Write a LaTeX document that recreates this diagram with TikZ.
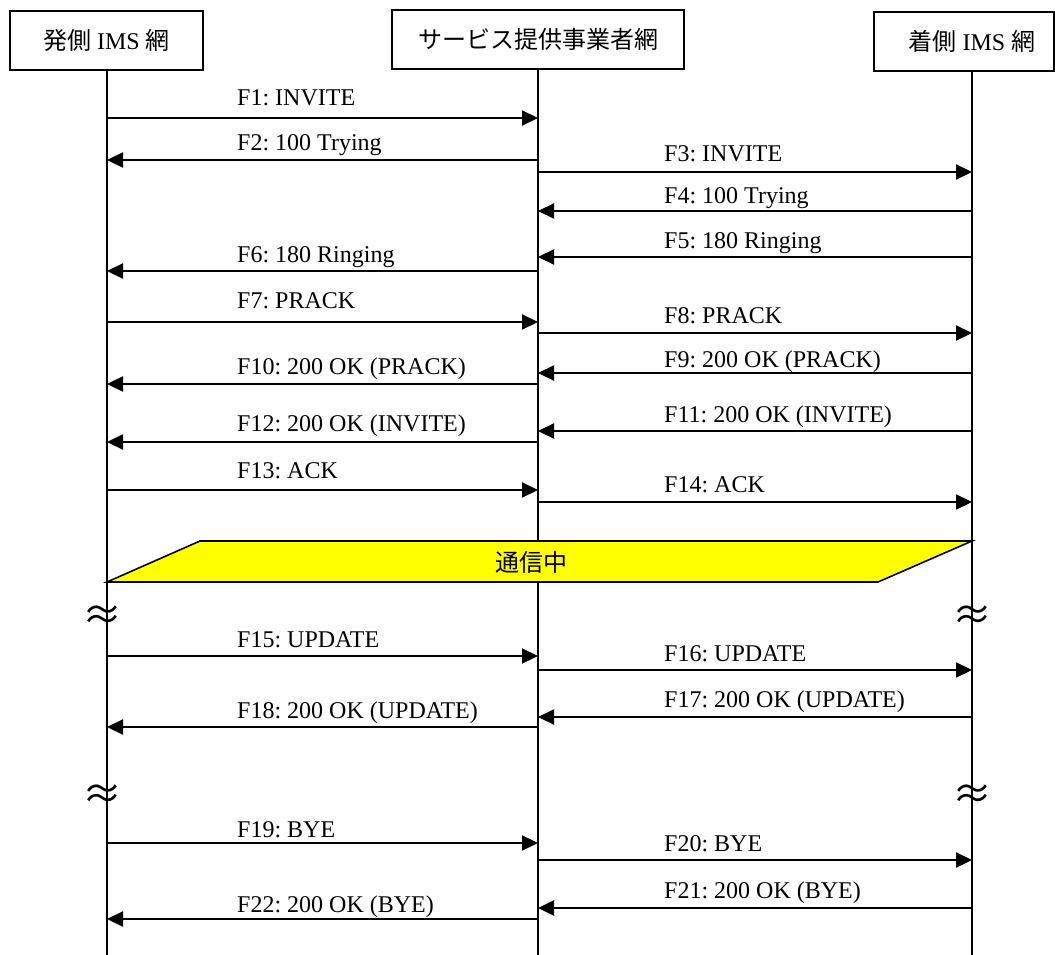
\documentclass[tikz,border=0pt]{standalone}
\usepackage{fontspec}
\setmainfont{Liberation Serif}
\newfontfamily\jp{Noto Sans CJK JP}
\usetikzlibrary{arrows.meta}
\newcommand\fsz{\fontsize{24pt}{28pt}\selectfont}
\definecolor{bandyellow}{rgb}{1,1,0}
\frenchspacing
\begin{document}
\begin{tikzpicture}[x=1pt,y=-1pt,
  hdr/.style={draw,line width=1.8pt,minimum height=59pt,inner sep=0pt,font=\fsz},
  life/.style={line width=1.7pt},
  msg/.style={line width=2.2pt,-{Triangle[length=16pt,width=15pt]}},
  lbl/.style={anchor=base west,inner sep=0pt,font=\fsz},
  wave/.style={inner sep=0pt,font=\fontsize{40pt}{40pt}\selectfont\jp},
]
\useasboundingbox (0,0) rectangle (1055,955);
% headers
\node[hdr,minimum width=193pt] (hA) at (106.5,40.5) {{\jp 発側} IMS {\jp 網}};
\node[hdr,minimum width=292pt] (hB) at (538,39.5) {\jp サービス提供事業者網};
\node[hdr,minimum width=180pt] (hCbox) at (964,41.5) {};
\node[inner sep=0pt,font=\fsz] (hC) at (972,41.5) {{\jp 着側} IMS {\jp 網}};
% lifelines
\coordinate (LA) at (107,0);
\coordinate (LB) at (538,0);
\coordinate (LC) at (972,0);
\coordinate (eA) at (107,955);
\coordinate (eB) at (538,955);
\coordinate (eC) at (972,955);
\draw[life] (LA |- hA.south) -- (eA);
\draw[life] (LB |- hB.south) -- (eB);
\draw[life] (LC |- hCbox.south) -- (eC);
% in-call band
\draw[line width=1.6pt,fill=bandyellow] (200,541) -- (LC |- 0,541) -- (878,582) -- (LA |- 0,582) -- cycle;
\node[inner sep=0pt,font=\fsz\jp] (talk) at (531,562) {通信中};
% gap marks
\node[wave] (w1) at (102,618) {≈};
\node[wave] (w2) at (972,618) {≈};
\node[wave] (w3) at (102,797) {≈};
\node[wave] (w4) at (972,797) {≈};
% messages
\foreach \f/\t/\y/\lx/\ly/\txt in {
  A/B/118/237/106/{F1: INVITE},
  B/A/160/237/151/{F2: 100 Trying},
  B/C/172/664/161/{F3: INVITE},
  C/B/211/664/203/{F4: 100 Trying},
  C/B/257/664/248/{F5: 180 Ringing},
  B/A/271/237/262/{F6: 180 Ringing},
  A/B/322/237/308/{F7: PRACK},
  B/C/333/664/323/{F8: PRACK},
  C/B/373/664/367/{F9: 200 OK (PRACK)},
  B/A/384/237/374/{F10: 200 OK (PRACK)},
  C/B/431/664/422/{F11: 200 OK (INVITE)},
  B/A/442/237/431/{F12: 200 OK (INVITE)},
  A/B/490/237/478/{F13: ACK},
  B/C/502/664/492/{F14: ACK},
  A/B/656/237/647/{F15: UPDATE},
  B/C/670/664/661/{F16: UPDATE},
  C/B/717/664/707/{F17: 200 OK (UPDATE)},
  B/A/727/237/718/{F18: 200 OK (UPDATE)},
  A/B/843/237/837/{F19: BYE},
  B/C/860/664/851/{F20: BYE},
  C/B/908/664/898/{F21: 200 OK (BYE)},
  B/A/919/237/912/{F22: 200 OK (BYE)}}{
  \draw[msg] (L\f |- 0,\y) -- (L\t |- 0,\y);
  \node[lbl] at (\lx,\ly) {\txt};
}
\end{tikzpicture}
\end{document}
